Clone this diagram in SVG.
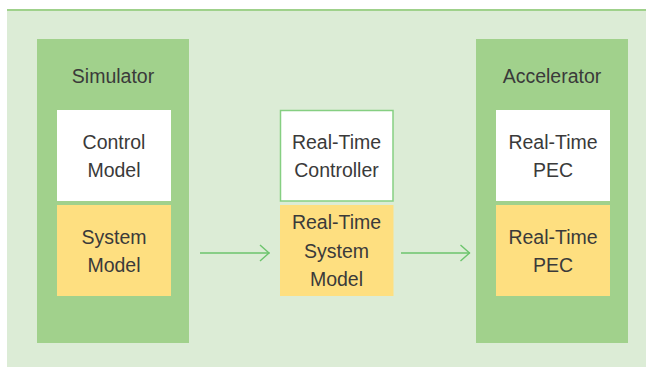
<svg xmlns="http://www.w3.org/2000/svg" width="646" height="367" viewBox="0 0 646 367">
  <defs>
    <style>
      .panel { fill: #dcecd6; }
      .topline { stroke: #9fd18b; stroke-width: 2; }
      .group { fill: #a1d18c; }
      .white { fill: #ffffff; }
      .yellow { fill: #fedf80; }
      .framed { fill: #ffffff; stroke: #86cf82; stroke-width: 1.5; }
      .label { font-family: "Liberation Sans", Arial, sans-serif; font-size: 19.5px; fill: #3a3a3a; text-anchor: middle; }
      .flow { stroke: #6cc46c; stroke-width: 1.4; fill: none; }
    </style>
    <marker id="chevron" viewBox="0 0 12 20" refX="11" refY="10" markerWidth="12" markerHeight="20" markerUnits="userSpaceOnUse" orient="auto">
      <path d="M1.5 2 L10.5 10 L1.5 18" fill="none" stroke="#6cc46c" stroke-width="1.4"/>
    </marker>
  </defs>

  <!-- background panel -->
  <rect class="panel" x="7" y="10" width="639" height="357"/>
  <line class="topline" x1="7" y1="10" x2="646" y2="10"/>

  <g id="simulator">
    <rect class="group" x="37" y="39" width="152" height="304"/>
    <text class="label" x="113" y="82.5">Simulator</text>
  </g>
  <g id="control-model">
    <rect class="white" x="57" y="110" width="114" height="91"/>
    <text class="label" x="114" y="149">Control</text>
    <text class="label" x="114" y="177.3">Model</text>
  </g>
  <g id="system-model">
    <rect class="yellow" x="57" y="205" width="114" height="91"/>
    <text class="label" x="114" y="244">System</text>
    <text class="label" x="114" y="272.3">Model</text>
  </g>

  <g id="rt-controller">
    <rect class="framed" x="280.5" y="110.5" width="112.5" height="90.5"/>
    <text class="label" x="336.5" y="149">Real-Time</text>
    <text class="label" x="336.5" y="177.3">Controller</text>
  </g>
  <g id="rt-system-model">
    <rect class="yellow" x="280" y="205" width="113.5" height="91"/>
    <text class="label" x="336.5" y="229">Real-Time</text>
    <text class="label" x="336.5" y="257.7">System</text>
    <text class="label" x="336.5" y="286.4">Model</text>
  </g>

  <g id="accelerator">
    <rect class="group" x="476" y="39" width="152" height="304"/>
    <text class="label" x="552" y="82.5">Accelerator</text>
  </g>
  <g id="rt-pec">
    <rect class="white" x="496" y="110" width="114" height="91"/>
    <text class="label" x="553" y="149">Real-Time</text>
    <text class="label" x="553" y="177.3">PEC</text>
  </g>
  <g id="rt-pec-sim">
    <rect class="yellow" x="496" y="205" width="114" height="91"/>
    <text class="label" x="553" y="244">Real-Time</text>
    <text class="label" x="553" y="272.3">PEC</text>
  </g>

  <g id="connectors">
    <line class="flow" x1="200" y1="253" x2="269.5" y2="253" marker-end="url(#chevron)"/>
    <line class="flow" x1="401" y1="253" x2="470" y2="253" marker-end="url(#chevron)"/>
  </g>
</svg>
